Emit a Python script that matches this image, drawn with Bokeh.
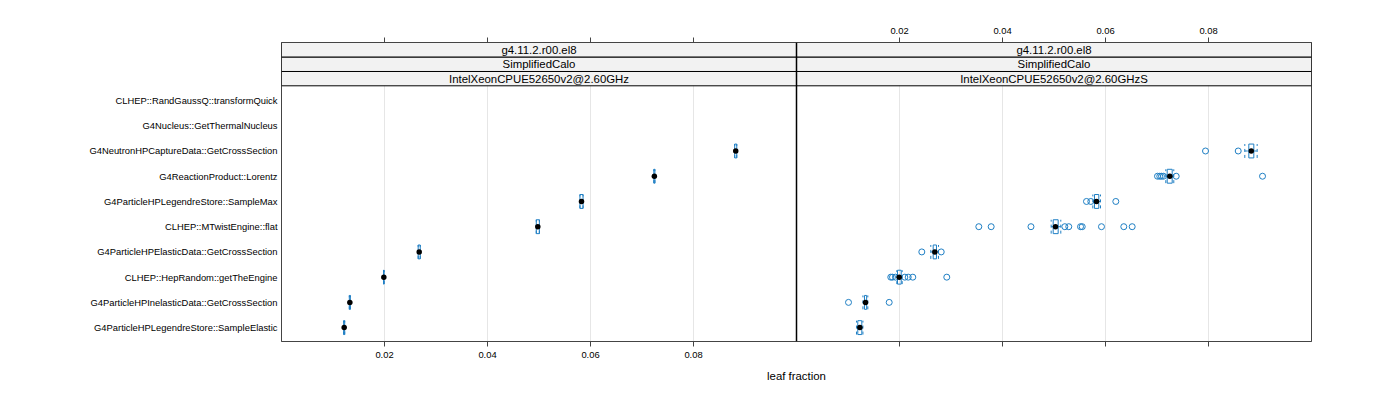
from bokeh.plotting import figure
from bokeh.models import Range1d, LinearAxis, FixedTicker, ColumnDataSource, Span
from bokeh.core.properties import value
from bokeh.embed import file_html
from bokeh.resources import INLINE

# ---------------- data ----------------
categories = [
    "CLHEP::RandGaussQ::transformQuick",
    "G4Nucleus::GetThermalNucleus",
    "G4NeutronHPCaptureData::GetCrossSection",
    "G4ReactionProduct::Lorentz",
    "G4ParticleHPLegendreStore::SampleMax",
    "CLHEP::MTwistEngine::flat",
    "G4ParticleHPElasticData::GetCrossSection",
    "CLHEP::HepRandom::getTheEngine",
    "G4ParticleHPInelasticData::GetCrossSection",
    "G4ParticleHPLegendreStore::SampleElastic",
]

# left panel: IntelXeonCPUE52650v2@2.60GHz
left_lw = [None, None, 0.08800, 0.07230, 0.05795, 0.04947, 0.02654, 0.01982, 0.01317, 0.01207]
left_q1 = [None, None, 0.08800, 0.07230, 0.05795, 0.04947, 0.02654, 0.01982, 0.01317, 0.01207]
left_med = [None, None, 0.08820, 0.07240, 0.05825, 0.04977, 0.02674, 0.01987, 0.01327, 0.01217]
left_q3 = [None, None, 0.08840, 0.07250, 0.05855, 0.05007, 0.02694, 0.01992, 0.01337, 0.01227]
left_uw = [None, None, 0.08840, 0.07250, 0.05855, 0.05007, 0.02694, 0.01992, 0.01337, 0.01227]
left_outliers = [[], [], [], [], [], [], [], [], [], []]

# right panel: IntelXeonCPUE52650v2@2.60GHzS
right_lw = [None, None, 0.08705, 0.07171, 0.05754, 0.04945, 0.02608, 0.01948, 0.01290, 0.01165]
right_q1 = [None, None, 0.08783, 0.07198, 0.05786, 0.04984, 0.02654, 0.01961, 0.01320, 0.01190]
right_med = [None, None, 0.08830, 0.07249, 0.05825, 0.05029, 0.02686, 0.01994, 0.01340, 0.01230]
right_q3 = [None, None, 0.08880, 0.07295, 0.05870, 0.05081, 0.02718, 0.02033, 0.01362, 0.01268]
right_uw = [None, None, 0.08945, 0.07326, 0.05903, 0.05132, 0.02757, 0.02052, 0.01385, 0.01290]
right_outliers = [
    [],
    [],
    [0.07942, 0.08577],
    [0.07010, 0.07054, 0.07087, 0.07126, 0.07373, 0.09049],
    [0.05631, 0.05715, 0.06200],
    [0.03540, 0.03780, 0.04553, 0.05210, 0.05287, 0.05515, 0.05548, 0.05922, 0.06355, 0.06518],
    [0.02433, 0.02810],
    [0.01831, 0.01864, 0.01922, 0.02103, 0.02169, 0.02258, 0.02918],
    [0.01010, 0.01800],
    [],
]

strip_left = ["g4.11.2.r00.el8", "SimplifiedCalo", "IntelXeonCPUE52650v2@2.60GHz"]
strip_right = ["g4.11.2.r00.el8", "SimplifiedCalo", "IntelXeonCPUE52650v2@2.60GHzS"]

x_ticks = [0.02, 0.04, 0.06, 0.08]
x_tick_labels = ["0.02", "0.04", "0.06", "0.08"]
x_label = "leaf fraction"

# ---------------- style ----------------
FONT = "Liberation Sans"
BLUE = "#1f7fc4"
AXIS_COL = "#444444"
BOX_H = 0.55

n = len(categories)
ypos = [float(n - i) for i in range(n)]

Y_LO, Y_HI = 0.45, 12.3
panel_top = 10.584
strip_edges = [panel_top, 11.151, 11.717, Y_HI]

p = figure(
    frame_width=1030, frame_height=299,
    min_border_left=281, min_border_right=81, min_border_top=42, min_border_bottom=51,
    x_range=Range1d(0.0, 0.2), y_range=Range1d(Y_LO, Y_HI),
    output_backend="svg", toolbar_location=None, tools="",
    x_axis_location=None, y_axis_location=None,
)
p.extra_x_ranges = {"right": Range1d(-0.1, 0.1)}
p.outline_line_color = AXIS_COL
p.outline_line_width = 1
p.background_fill_color = "white"
p.border_fill_color = "white"

# grid
grid_ticks = x_ticks + [t + 0.1 for t in x_ticks]
p.xgrid.ticker = FixedTicker(ticks=grid_ticks)
p.xgrid.grid_line_color = "#e6e6e6"
p.ygrid.visible = False


def style_axis(ax, font_size="9.4px"):
    ax.major_label_text_font = FONT
    ax.major_label_text_font_size = font_size
    ax.major_label_text_color = "black"
    ax.axis_line_color = AXIS_COL
    ax.major_tick_line_color = AXIS_COL
    ax.minor_tick_line_color = None
    ax.major_tick_in = 0
    ax.major_tick_out = 5


# bottom axis: labels for left panel, bare ticks for right panel
bottom_over = {}
for t, lab in zip(x_ticks, x_tick_labels):
    bottom_over[t] = lab
    bottom_over[t + 0.1] = ""
bottom = LinearAxis(ticker=FixedTicker(ticks=grid_ticks, minor_ticks=[]),
                    major_label_overrides=bottom_over)
style_axis(bottom)
bottom.major_label_standoff = 5
bottom.axis_label = x_label
bottom.axis_label_text_font = FONT
bottom.axis_label_text_font_size = "11.4px"
bottom.axis_label_text_font_style = "normal"
bottom.axis_label_text_color = "black"
bottom.axis_label_standoff = 9
p.add_layout(bottom, "below")

# top axis: bare ticks for left panel, labels for right panel
top_ticks = [-t for t in x_ticks] + x_ticks
top_over = {}
for t, lab in zip(x_ticks, x_tick_labels):
    top_over[-t] = ""
    top_over[t] = lab
top = LinearAxis(x_range_name="right", ticker=FixedTicker(ticks=top_ticks, minor_ticks=[]),
                 major_label_overrides=top_over)
style_axis(top)
top.major_label_standoff = 4
p.add_layout(top, "above")

# left axis: category names
left_ax = LinearAxis(ticker=FixedTicker(ticks=ypos, minor_ticks=[]),
                     major_label_overrides={y: c for y, c in zip(ypos, categories)})
style_axis(left_ax)
left_ax.axis_line_color = None
left_ax.major_tick_line_color = None
left_ax.major_tick_out = 0
left_ax.major_label_standoff = 4
p.add_layout(left_ax, "left")


def draw_panel(lw, q1, med, q3, uw, outl, rname):
    idx = [i for i in range(n) if med[i] is not None]
    ys = [ypos[i] for i in idx]
    src = ColumnDataSource(dict(
        y=ys,
        lw=[lw[i] for i in idx], q1=[q1[i] for i in idx], med=[med[i] for i in idx],
        q3=[q3[i] for i in idx], uw=[uw[i] for i in idx],
        yb=[y - BOX_H / 2 for y in ys], yt=[y + BOX_H / 2 for y in ys],
    ))
    kw = dict(source=src, x_range_name=rname)
    # whiskers (dashed)
    p.segment(x0="lw", y0="y", x1="q1", y1="y", line_color=BLUE, line_width=1,
              line_dash="3 3", **kw)
    p.segment(x0="q3", y0="y", x1="uw", y1="y", line_color=BLUE, line_width=1,
              line_dash="3 3", **kw)
    p.segment(x0="lw", y0="yb", x1="lw", y1="yt", line_color=BLUE, line_width=1,
              line_dash="3 3", **kw)
    p.segment(x0="uw", y0="yb", x1="uw", y1="yt", line_color=BLUE, line_width=1,
              line_dash="3 3", **kw)
    # box
    p.hbar(y="y", left="q1", right="q3", height=BOX_H, fill_color=None,
           line_color=BLUE, line_width=1, **kw)
    # outliers
    ox, oy = [], []
    for i in range(n):
        for v in outl[i]:
            ox.append(v)
            oy.append(ypos[i])
    if ox:
        p.scatter(x=ox, y=oy, marker="circle", size=6, fill_color=None,
                  line_color=BLUE, line_width=1, x_range_name=rname)
    # median dot
    p.scatter(x="med", y="y", marker="circle", size=5.5, fill_color="black",
              line_color=None, **kw)


draw_panel(left_lw, left_q1, left_med, left_q3, left_uw, left_outliers, "default")
draw_panel(right_lw, right_q1, right_med, right_q3, right_uw, right_outliers, "right")

# strips
for labels, rname in ((strip_left, "default"), (strip_right, "right")):
    bots, tops, mids = [], [], []
    for k in range(len(labels)):
        b = strip_edges[len(labels) - 1 - k]
        t = strip_edges[len(labels) - k]
        bots.append(b)
        tops.append(t)
        mids.append((b + t) / 2)
    p.quad(left=[0.0] * 3, right=[0.1] * 3, bottom=bots, top=tops,
           fill_color="#f2f2f2", line_color="black", line_width=1, x_range_name=rname)
    p.text(x=[0.05] * 3, y=mids, text=labels, text_align="center",
           text_baseline="middle", text_font=value(FONT), text_font_size="11.4px",
           text_color="black", x_range_name=rname)

# panel separator
p.add_layout(Span(location=0.1, dimension="height", line_color="black", line_width=1.5))

open("out.html", "w").write(file_html(p, INLINE))
